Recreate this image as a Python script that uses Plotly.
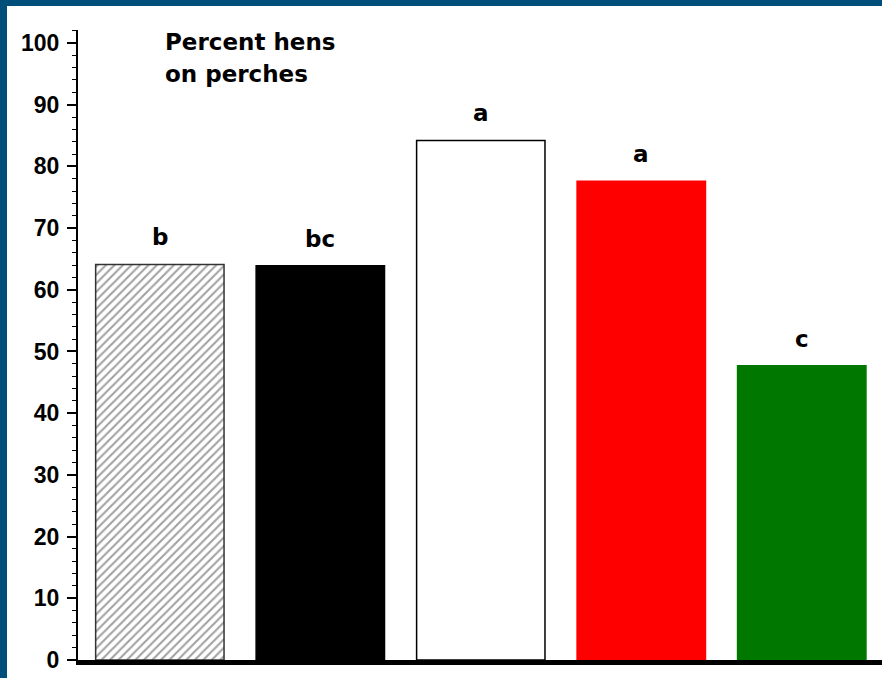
import plotly.graph_objects as go

categories = ["A", "B", "C", "D", "E"]
values = [64.1, 63.9, 84.2, 77.6, 47.7]
letters = ["b", "bc", "a", "a", "c"]
fill_colors = ["white", "black", "white", "#ff0000", "#007800"]
line_colors = ["#333333", "black", "black", "#ff0000", "#007800"]
pattern_shapes = ["/", "", "", "", ""]
y_tick_vals = [0, 10, 20, 30, 40, 50, 60, 70, 80, 90, 100]

W, H = 882, 678
ML, MR, MT, MB = 78, 0, 30, 18
pw, ph = W - ML - MR, H - MT - MB

def px_x(p):
    return (p - ML) / pw

def px_y(p):
    return 1 - (p - MT) / ph

fig = go.Figure()
fig.add_trace(go.Bar(
    x=list(range(len(categories))), y=values, width=0.8,
    marker=dict(color=fill_colors,
                line=dict(color=line_colors, width=1.5),
                pattern=dict(shape=pattern_shapes, size=6, solidity=0.35,
                             fgcolor="#111111", bgcolor="white")),
    hoverinfo="skip", showlegend=False,
))

font_b = dict(family="DejaVu Sans", size=23, color="black", weight="bold")
for i, (v, t) in enumerate(zip(values, letters)):
    fig.add_annotation(x=i, y=v, text=t, showarrow=False, yanchor="bottom",
                       yshift=12, font=font_b)

fig.add_annotation(xref="paper", yref="paper", x=px_x(163), y=px_y(42), text="Percent hens",
                   showarrow=False, xanchor="left", yanchor="middle", font=font_b)
fig.add_annotation(xref="paper", yref="paper", x=px_x(163), y=px_y(74), text="on perches",
                   showarrow=False, xanchor="left", yanchor="middle", font=font_b)

# blue frame bands
blue = "#004e7a"
fig.add_shape(type="rect", xref="paper", yref="paper", x0=px_x(0), x1=px_x(7),
              y0=px_y(H), y1=px_y(0), fillcolor=blue, line_width=0, layer="above")
fig.add_shape(type="rect", xref="paper", yref="paper", x0=px_x(0), x1=px_x(W),
              y0=px_y(6), y1=px_y(0), fillcolor=blue, line_width=0, layer="above")

fig.update_layout(
    width=W, height=H, margin=dict(l=ML, r=MR, t=MT, b=MB),
    paper_bgcolor="white", plot_bgcolor="white", bargap=0.2,
    xaxis=dict(range=[-0.51, 4.5], showticklabels=False, ticks="", showgrid=False,
               zeroline=False, showline=True, linecolor="black", linewidth=5),
    yaxis=dict(range=[0, 102.1], tickvals=y_tick_vals, ticks="outside", ticklen=9,
               tickwidth=1.5, tickcolor="black", showgrid=False, zeroline=False,
               showline=True, linecolor="black", linewidth=2, ticklabelstandoff=3,
               tickfont=dict(family="Liberation Sans", size=23, color="black", weight="bold"),
               minor=dict(dtick=2, ticks="outside", ticklen=4, tickcolor="black", tickwidth=1)),
)

fig.write_html("out.html", config={"displayModeBar": False},
               post_script="document.body.style.margin='0';document.body.style.overflow='hidden';")
